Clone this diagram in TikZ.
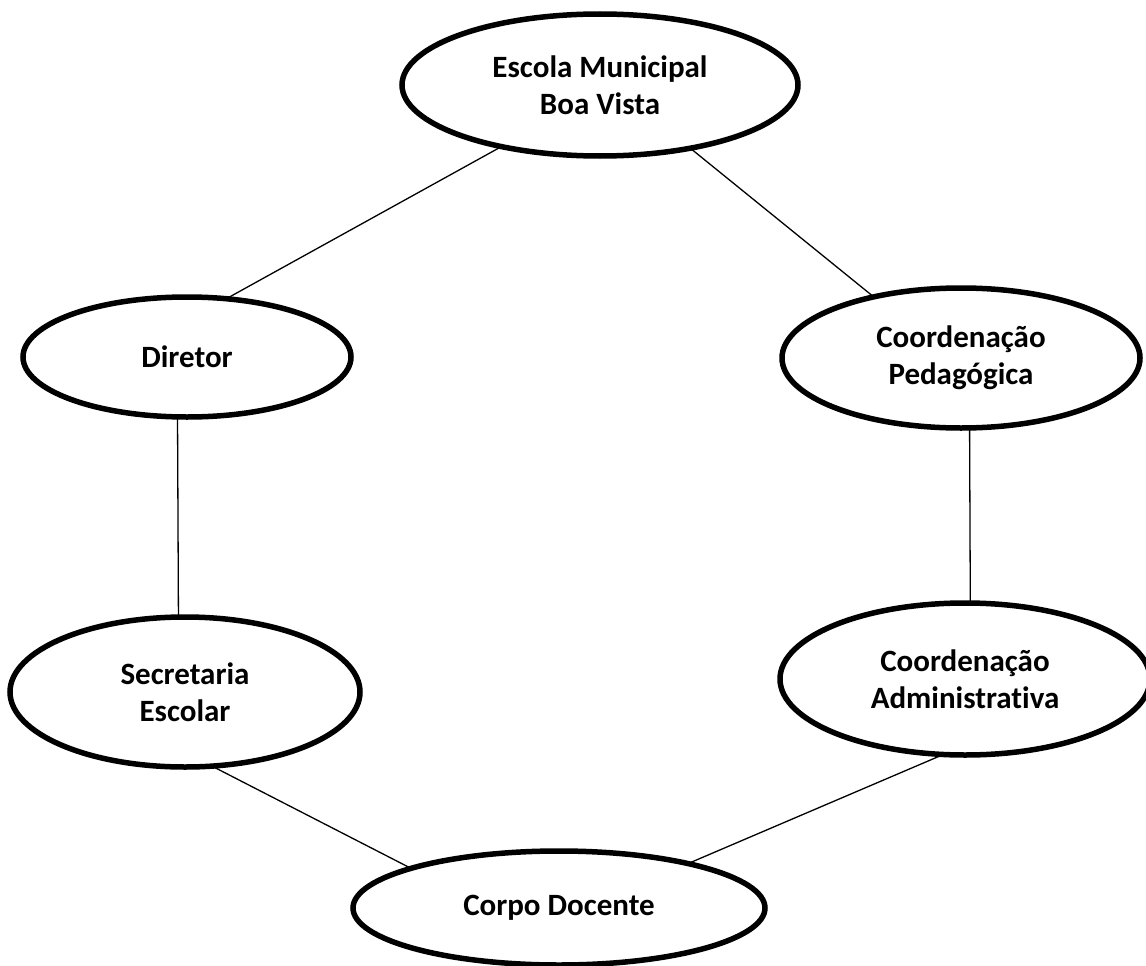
\documentclass[tikz,border=0pt]{standalone}
\usepackage{fontspec}
\setmainfont{Carlito}[Ligatures=NoCommon]
\usetikzlibrary{shapes.geometric}

\begin{document}
\begin{tikzpicture}[x=1pt,y=-1pt,
	unit/.style={ellipse,draw,line width=5.5pt,inner sep=0pt,outer sep=0pt,align=center,font=\fontsize{31}{37}\selectfont\bfseries},
	link/.style={line width=1.3pt}]
		\useasboundingbox (0,0) rectangle (1146,966);
		\node[unit,minimum width=396pt,minimum height=142pt] (escola) at (600,85) {Escola Municipal\\Boa Vista};
		\node[unit,minimum width=328pt,minimum height=120pt] (diretor) at (187,357) {Diretor};
		\node[unit,minimum width=358pt,minimum height=140pt] (pedag) at (961,358) {Coordenação\\Pedagógica};
		\node[unit,minimum width=350pt,minimum height=150pt] (secret) at (185,692) {Secretaria\\Escolar};
		\node[unit,minimum width=370pt,minimum height=152pt] (admin) at (965,679) {Coordenação\\Administrativa};
		\node[unit,minimum width=412pt,minimum height=114pt] (docente) at (559,908) {Corpo Docente};
		\draw[link] (escola.212) -- (diretor.56);
		\draw[link] (escola.325) -- (pedag.145);
		\draw[link] (diretor.261) -- (secret.95);
		\draw[link] (pedag.277) -- (admin.86);
		\draw[link] (secret.290) -- (docente.165);
		\draw[link] (admin.254) -- (docente.19);
	\end{tikzpicture}
\end{document}
